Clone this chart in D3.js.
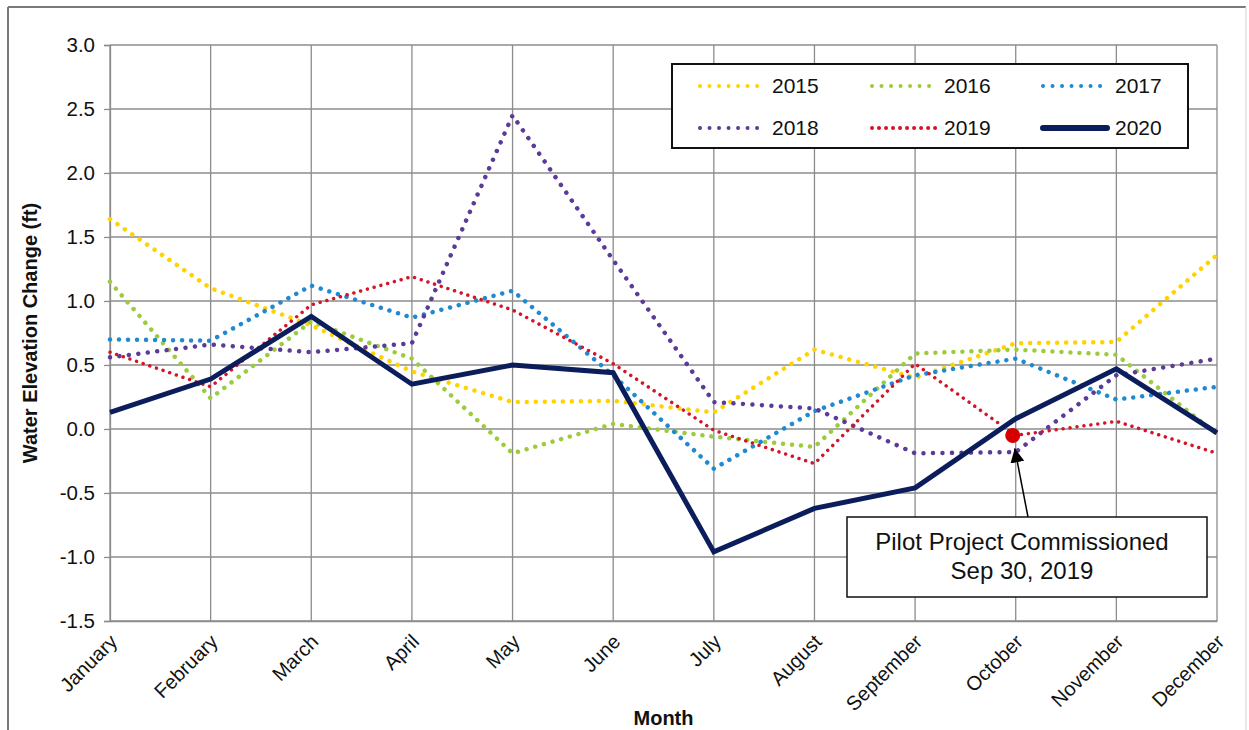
<!DOCTYPE html>
<html>
<head>
<meta charset="utf-8">
<script src="https://cdn.jsdelivr.net/npm/d3@7"></script>
<style>
  html, body { margin: 0; padding: 0; background: #fff; }
  svg { display: block; font-family: "Liberation Sans", Arial, sans-serif; }
</style>
</head>
<body>
<svg id="chart" width="1249" height="730"></svg>
<script>
const months = ["January","February","March","April","May","June","July","August","September","October","November","December"];
const yTicks = [-1.5, -1.0, -0.5, 0.0, 0.5, 1.0, 1.5, 2.0, 2.5, 3.0];

const y2015 = [1.64, 1.10, 0.81, 0.45, 0.21, 0.22, 0.13, 0.62, 0.40, 0.67, 0.68, 1.36];
const y2016 = [1.15, 0.24, 0.84, 0.55, -0.19, 0.04, -0.06, -0.14, 0.59, 0.62, 0.58, -0.04];
const y2017 = [0.70, 0.69, 1.12, 0.87, 1.08, 0.42, -0.31, 0.14, 0.42, 0.55, 0.23, 0.33];
const y2018 = [0.56, 0.66, 0.60, 0.67, 2.45, 1.32, 0.21, 0.16, -0.19, -0.18, 0.42, 0.55];
const y2019 = [0.60, 0.33, 0.97, 1.19, 0.93, 0.51, -0.01, -0.27, 0.51, -0.05, 0.06, -0.19];
const y2020 = [0.13, 0.39, 0.88, 0.35, 0.50, 0.44, -0.96, -0.62, -0.46, 0.08, 0.47, -0.03];

const seriesNames = ["2015","2016","2017","2018","2019","2020"];
const seriesValues = [y2015, y2016, y2017, y2018, y2019, y2020];

const markerMonth = "October";
const markerValue = -0.05;
const noteLines = ["Pilot Project Commissioned", "Sep 30, 2019"];

const yTitle = "Water Elevation Change (ft)";
const xTitle = "Month";

(function () {
const styles = {
  "2015": {color: "#FFD200", width: 4.5, dash: "0.01 9"},
  "2016": {color: "#9DCB3E", width: 4.5, dash: "0.01 9"},
  "2017": {color: "#1F8AD2", width: 4.5, dash: "0.01 9"},
  "2018": {color: "#5C3A98", width: 4.5, dash: "0.01 9.5"},
  "2019": {color: "#D41428", width: 3.5, dash: "0.01 7"},
  "2020": {color: "#0C1D5C", width: 5, dash: null}
};
const font = "Liberation Sans, Arial, sans-serif";

const svg = d3.select("#chart");
const pLeft = 110, pRight = 1217, pTop = 45, pBottom = 621;

// outer frame
svg.append("line").attr("x1", 8).attr("y1", 7).attr("x2", 1246).attr("y2", 7).attr("stroke", "#7a7a7a").attr("stroke-width", 2);
svg.append("line").attr("x1", 8).attr("y1", 7).attr("x2", 8).attr("y2", 730).attr("stroke", "#7a7a7a").attr("stroke-width", 2);
svg.append("line").attr("x1", 1246).attr("y1", 7).attr("x2", 1246).attr("y2", 730).attr("stroke", "#e2e2e2").attr("stroke-width", 1.5);

const x = d3.scalePoint().domain(months).range([pLeft, pRight]);
const y = d3.scaleLinear().domain([-1.5, 3.0]).range([pBottom, pTop]);

// gridlines
const grid = svg.append("g");
grid.selectAll("line.h").data(yTicks).join("line").attr("class", "h")
  .attr("x1", pLeft).attr("x2", pRight)
  .attr("y1", d => y(d)).attr("y2", d => y(d))
  .attr("stroke", "#8c8c8c").attr("stroke-width", 1.3);
grid.selectAll("line.v").data(months).join("line").attr("class", "v")
  .attr("x1", d => x(d)).attr("x2", d => x(d))
  .attr("y1", pTop).attr("y2", pBottom)
  .attr("stroke", "#8c8c8c").attr("stroke-width", 1.3);

// y axis
const yAxis = svg.append("g").attr("transform", `translate(${pLeft},0)`)
  .call(d3.axisLeft(y).tickValues(yTicks).tickFormat(d => d.toFixed(1)).tickSize(6).tickPadding(9));
yAxis.select(".domain").attr("stroke", "#8c8c8c").attr("stroke-width", 1.3);
yAxis.selectAll(".tick line").attr("stroke", "#8c8c8c").attr("stroke-width", 1.3);
yAxis.selectAll(".tick text").attr("font-size", 20.5).attr("fill", "#111").attr("font-family", font);

// x axis
const xAxis = svg.append("g").attr("transform", `translate(0,${pBottom})`)
  .call(d3.axisBottom(x).tickSize(0).tickPadding(0));
xAxis.select(".domain").attr("stroke", "#8c8c8c").attr("stroke-width", 1.3);
xAxis.selectAll(".tick text")
  .attr("font-size", 20).attr("fill", "#111").attr("font-family", font)
  .attr("text-anchor", "end")
  .attr("transform", "translate(3,17) rotate(-45)")
  .attr("dy", "0.35em").attr("y", 0).attr("x", 0);

// lines
const lineGen = d3.line().x((d, i) => x(months[i])).y(d => y(d));
const lg = svg.append("g");
seriesNames.forEach((name, k) => {
  const s = styles[name];
  const p = lg.append("path").datum(seriesValues[k])
    .attr("d", lineGen)
    .attr("fill", "none")
    .attr("stroke", s.color)
    .attr("stroke-width", s.width);
  if (s.dash) p.attr("stroke-dasharray", s.dash).attr("stroke-linecap", "round");
  else p.attr("stroke-linejoin", "miter");
});

// marker
svg.append("circle").attr("cx", x(markerMonth) - 3).attr("cy", y(markerValue)).attr("r", 7.5).attr("fill", "#D60000");

// annotation
const boxX = 847, boxY = 517, boxW = 360, boxH = 80;
svg.append("defs").append("marker").attr("id", "arr")
  .attr("viewBox", "0 0 10 10").attr("refX", 10).attr("refY", 5)
  .attr("markerWidth", 14).attr("markerHeight", 14).attr("markerUnits", "userSpaceOnUse")
  .attr("orient", "auto")
  .append("path").attr("d", "M0,0 L10,5 L0,10 z").attr("fill", "#000");
svg.append("line").attr("x1", 1028).attr("y1", boxY).attr("x2", x(markerMonth) - 1).attr("y2", y(markerValue) + 13)
  .attr("stroke", "#000").attr("stroke-width", 1.5).attr("marker-end", "url(#arr)");
svg.append("rect").attr("x", boxX).attr("y", boxY).attr("width", boxW).attr("height", boxH)
  .attr("fill", "#fff").attr("stroke", "#111").attr("stroke-width", 1.5);
svg.append("text").attr("x", boxX + boxW / 2 - 5).attr("y", 550).attr("text-anchor", "middle")
  .attr("font-size", 24).attr("fill", "#111").attr("font-family", font).text(noteLines[0]);
svg.append("text").attr("x", boxX + boxW / 2 - 5).attr("y", 579).attr("text-anchor", "middle")
  .attr("font-size", 24).attr("fill", "#111").attr("font-family", font).text(noteLines[1]);

// legend
const legX = 672, legY = 64, legW = 516, legH = 84;
const leg = svg.append("g");
leg.append("rect").attr("x", legX).attr("y", legY).attr("width", legW).attr("height", legH)
  .attr("fill", "#fff").attr("stroke", "#111").attr("stroke-width", 2);
const colX = [700, 872, 1043];
const rowY = [86, 128];
seriesNames.forEach((name, k) => {
  const s = styles[name];
  const cx = colX[k % 3], cy = rowY[Math.floor(k / 3)];
  const l = leg.append("line").attr("x1", cx).attr("x2", cx + 64).attr("y1", cy).attr("y2", cy)
    .attr("stroke", s.color).attr("stroke-width", s.dash ? 4 : 6);
  if (s.dash) l.attr("stroke-dasharray", name === "2019" ? "0.01 7" : "0.01 9.5").attr("stroke-linecap", "round");
  else l.attr("stroke-linecap", "round");
  leg.append("text").attr("x", cx + 72).attr("y", cy).attr("dy", "0.35em")
    .attr("font-size", 21).attr("fill", "#111").attr("font-family", font).text(name);
});

// axis titles
svg.append("text").attr("transform", `translate(37,${(pTop + pBottom) / 2}) rotate(-90)`)
  .attr("text-anchor", "middle").attr("font-size", 20).attr("font-weight", "bold").attr("fill", "#111").attr("font-family", font).text(yTitle);
svg.append("text").attr("x", (pLeft + pRight) / 2).attr("y", 725)
  .attr("text-anchor", "middle").attr("font-size", 20).attr("font-weight", "bold").attr("fill", "#111").attr("font-family", font).text(xTitle);
})();
</script>
</body>
</html>
